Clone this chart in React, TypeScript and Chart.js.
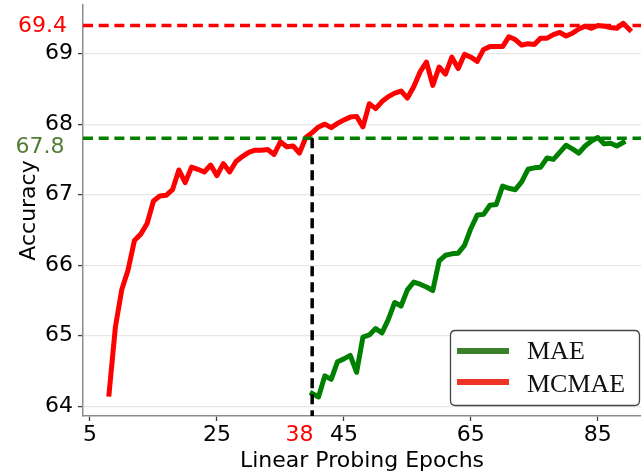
import { useEffect, useRef } from 'react';
import { Chart, registerables } from 'chart.js';

Chart.register(...registerables);

// Top-1 accuracy per linear-probing epoch
const MCMAE_FIRST_EPOCH = 8;
const MCMAE_ACC = [
  64.17, 65.12, 65.65, 65.93, 66.35, 66.44, 66.59, 66.91, 66.98, 66.99,
  67.07, 67.35, 67.17, 67.39, 67.36, 67.32, 67.42, 67.27, 67.44, 67.32,
  67.47, 67.54, 67.6, 67.63, 67.63, 67.64, 67.57, 67.75, 67.68, 67.69,
  67.59, 67.81, 67.88, 67.96, 68.0, 67.95, 68.01, 68.06, 68.1, 68.11,
  67.96, 68.29, 68.22, 68.32, 68.39, 68.44, 68.47, 68.37, 68.53, 68.74,
  68.88, 68.55, 68.81, 68.71, 68.95, 68.79, 68.99, 68.95, 68.89, 69.06,
  69.1, 69.1, 69.1, 69.24, 69.2, 69.12, 69.14, 69.13, 69.22, 69.22,
  69.27, 69.3, 69.25, 69.29, 69.35, 69.39, 69.36, 69.4, 69.39, 69.37,
  69.36, 69.43, 69.34,
];

const MAE_FIRST_EPOCH = 40;
const MAE_ACC = [
  64.18, 64.13, 64.43, 64.38, 64.63, 64.67, 64.72, 64.48, 64.98, 65.01,
  65.1, 65.04, 65.23, 65.47, 65.42, 65.65, 65.76, 65.73, 65.69, 65.64,
  66.06, 66.14, 66.16, 66.17, 66.28, 66.52, 66.71, 66.72, 66.85, 66.86,
  67.12, 67.09, 67.07, 67.18, 67.36, 67.38, 67.39, 67.52, 67.5, 67.6,
  67.7, 67.65, 67.59, 67.69, 67.76, 67.81, 67.72, 67.73, 67.69, 67.74,
];

const MCMAE_BEST = 69.4;
const MAE_BEST = 67.8;
const GUIDE_EPOCH = 40;
const MARKED_EPOCH = 38;

const X_TICKS = [5, 25, 45, 65, 85];
const Y_TICKS = [64, 65, 66, 67, 68, 69];
const X_MIN = 3.9;
const X_MAX = 91.8;
const Y_MIN = 63.86;
const Y_MAX = 69.69;

const RED = '#ff0000';
const GREEN = '#008000';
const FONT = '"DejaVu Sans", sans-serif';

const toPoints = (first: number, values: number[]) =>
  values.map((y, i) => ({ x: first + i, y }));

const overlay = {
  id: 'overlay',
  afterDatasetsDraw(chart: any) {
    const { ctx, scales } = chart;
    const y = scales.y;
    ctx.save();

    // best-accuracy labels beside the left axis
    ctx.font = `22px ${FONT}`;
    ctx.textAlign = 'right';
    ctx.textBaseline = 'middle';
    ctx.fillStyle = RED;
    ctx.fillText(MCMAE_BEST.toFixed(1), 67, y.getPixelForValue(MCMAE_BEST) + 1);
    ctx.fillStyle = '#527d35';
    ctx.fillText(MAE_BEST.toFixed(1), 64.5, y.getPixelForValue(MAE_BEST) + 9.5);

    // legend box
    const bx = 450.5, by = 330.5, bw = 189, bh = 75, r = 5;
    ctx.beginPath();
    ctx.moveTo(bx + r, by);
    ctx.lineTo(bx + bw - r, by);
    ctx.quadraticCurveTo(bx + bw, by, bx + bw, by + r);
    ctx.lineTo(bx + bw, by + bh - r);
    ctx.quadraticCurveTo(bx + bw, by + bh, bx + bw - r, by + bh);
    ctx.lineTo(bx + r, by + bh);
    ctx.quadraticCurveTo(bx, by + bh, bx, by + bh - r);
    ctx.lineTo(bx, by + r);
    ctx.quadraticCurveTo(bx, by, bx + r, by);
    ctx.closePath();
    ctx.fillStyle = '#ffffff';
    ctx.fill();
    ctx.lineWidth = 1.3;
    ctx.strokeStyle = '#444444';
    ctx.stroke();

    ctx.lineWidth = 6;
    ctx.lineCap = 'butt';
    ctx.strokeStyle = '#3a7f2a';
    ctx.beginPath();
    ctx.moveTo(457, 351);
    ctx.lineTo(509, 351);
    ctx.stroke();
    ctx.strokeStyle = '#ee3424';
    ctx.beginPath();
    ctx.moveTo(457, 382);
    ctx.lineTo(509, 382);
    ctx.stroke();

    ctx.font = '26px "Liberation Serif", serif';
    ctx.textAlign = 'left';
    ctx.textBaseline = 'alphabetic';
    ctx.fillStyle = '#111111';
    ctx.fillText('MAE', 527, 359);
    ctx.fillText('MCMAE', 527, 391.5);

    ctx.restore();
  },
};

export default function App() {
  const ref = useRef<HTMLCanvasElement>(null);

  useEffect(() => {
    const canvas = ref.current;
    if (!canvas) return;

    const chart = new Chart(canvas, {
      type: 'line',
      data: {
        datasets: [
          {
            label: 'guide',
            data: [
              { x: GUIDE_EPOCH, y: MAE_BEST },
              { x: GUIDE_EPOCH, y: Y_MIN },
            ],
            borderColor: '#000000',
            borderWidth: 3.5,
            borderDash: [10, 6],
            pointRadius: 0,
          },
          {
            label: 'MAE best',
            data: [
              { x: X_MIN, y: MAE_BEST },
              { x: X_MAX, y: MAE_BEST },
            ],
            borderColor: GREEN,
            borderWidth: 3.5,
            borderDash: [10, 5.7],
            pointRadius: 0,
          },
          {
            label: 'MCMAE best',
            data: [
              { x: X_MIN, y: MCMAE_BEST },
              { x: X_MAX, y: MCMAE_BEST },
            ],
            borderColor: RED,
            borderWidth: 3.5,
            borderDash: [10, 5.7],
            pointRadius: 0,
          },
          {
            label: 'MCMAE',
            data: toPoints(MCMAE_FIRST_EPOCH, MCMAE_ACC),
            borderColor: RED,
            borderWidth: 5,
            borderCapStyle: 'square',
            borderJoinStyle: 'round',
            pointRadius: 0,
            tension: 0,
          },
          {
            label: 'MAE',
            data: toPoints(MAE_FIRST_EPOCH, MAE_ACC),
            borderColor: GREEN,
            borderWidth: 5,
            borderCapStyle: 'square',
            borderJoinStyle: 'round',
            pointRadius: 0,
            tension: 0,
          },
        ],
      },
      options: {
        responsive: false,
        animation: false,
        events: [],
        layout: { padding: { top: 5, right: 0, left: 0, bottom: 0 } },
        plugins: {
          legend: { display: false },
          tooltip: { enabled: false },
        },
        scales: {
          x: {
            type: 'linear',
            min: X_MIN,
            max: X_MAX,
            afterBuildTicks: (s: any) => {
              s.ticks = [...X_TICKS, MARKED_EPOCH]
                .sort((a, b) => a - b)
                .map((value) => ({ value }));
            },
            afterFit: (s: any) => {
              s.height = 59;
              s.paddingLeft = 0;
              s.paddingRight = 0;
            },
            border: { display: true, color: '#8c8c8c', width: 1.5 },
            grid: {
              display: true,
              drawOnChartArea: false,
              drawTicks: true,
              tickLength: 5,
              tickWidth: 1.3,
              tickColor: (c: any) =>
                c.tick && c.tick.value === MARKED_EPOCH ? 'rgba(0,0,0,0)' : '#404040',
            },
            ticks: {
              autoSkip: false,
              maxRotation: 0,
              padding: 1,
              font: { family: FONT, size: 22 },
              color: (c: any) =>
                c.tick && c.tick.value === MARKED_EPOCH ? RED : '#000000',
              callback: (v: any) => String(v),
            },
            title: {
              display: true,
              text: 'Linear Probing Epochs',
              color: '#000000',
              font: { family: FONT, size: 22 },
              padding: { top: 0, bottom: 1 },
            },
          },
          y: {
            type: 'linear',
            min: Y_MIN,
            max: Y_MAX,
            afterBuildTicks: (s: any) => {
              s.ticks = Y_TICKS.map((value) => ({ value }));
            },
            afterFit: (s: any) => {
              s.width = 83;
              s.paddingTop = 0;
              s.paddingBottom = 0;
            },
            border: { display: true, color: '#8c8c8c', width: 1.5 },
            grid: {
              color: '#e6e6e6',
              lineWidth: 1.2,
              drawTicks: true,
              tickLength: 5,
              tickWidth: 1.3,
              tickColor: '#404040',
            },
            ticks: {
              padding: 5,
              font: { family: FONT, size: 22 },
              color: '#000000',
              callback: (v: any) => String(v),
            },
            title: {
              display: true,
              text: 'Accuracy',
              color: '#000000',
              font: { family: FONT, size: 22 },
              padding: { top: 16, bottom: 0 },
            },
          },
        },
      },
      plugins: [overlay],
    } as any);

    return () => chart.destroy();
  }, []);

  return (
    <div
      style={{
        position: 'fixed',
        left: 0,
        top: 0,
        width: 641,
        height: 475,
        background: '#ffffff',
      }}
    >
      <canvas ref={ref} width={641} height={475} />
    </div>
  );
}
